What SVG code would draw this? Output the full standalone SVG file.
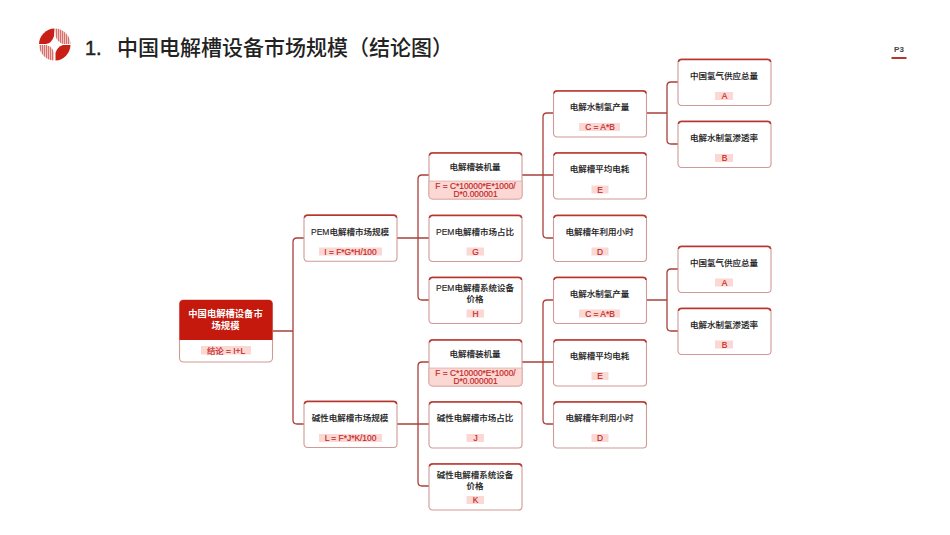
<svg xmlns="http://www.w3.org/2000/svg" width="950" height="535" viewBox="0 0 950 535">
<style>
text{font-family:"Liberation Sans","Noto Sans CJK SC",sans-serif;text-anchor:middle;text-spacing-trim:space-all}
.b{fill:#fff;stroke:#d09a96;stroke-width:1.1}
.t{fill:none;stroke:#b8342c;stroke-width:1.5}
.l{font-size:8.500px;fill:#222;font-weight:500;stroke:#222;stroke-width:.12}
.p{fill:#fcd8d5}
.f{font-size:8.400px;fill:#c5261e;stroke:#c5261e;stroke-width:.18}
.c{fill:none;stroke:#a8403a;stroke-width:1.3}
</style>
<defs>
<pattern id="st" width="2" height="2" patternUnits="userSpaceOnUse"><rect width="2" height="2" fill="#fff"/><rect width="1.4" height="2" fill="#d8716b"/></pattern>
<g id="box"><rect class="b" width="93" height="46.5" rx="3.500"/><path class="t" d="M0.500 3Q0.500 .4 3.500 .4H89.500Q92.500 .4 92.500 3"/></g>
</defs>
<rect width="950" height="535" fill="#fff"/>
<g id="logo">
<path d="M54.500 28.500A16 16 0 0 0 39 44H46Q52 43 54 36Z" fill="#c81f16"/>
<path d="M55 28.500A16 16 0 0 1 70.500 44H63Q57 42 55.500 36Z" fill="url(#st)"/>
<path d="M39 45A16 16 0 0 0 54 60.500V53Q53 47 46.500 45Z" fill="url(#st)"/>
<path d="M70.500 45A16 16 0 0 1 55.500 60.500V53Q57 47 63 45Z" fill="#c81f16"/>
</g>
<text x="85" y="54.500" style="text-anchor:start;font-size:20px;stroke:#222;stroke-width:.5" fill="#222">1.</text>
<text x="117" y="54.500" style="text-anchor:start;font-size:21px;font-weight:500;font-family:'Noto Sans CJK SC',sans-serif;font-kerning:none" fill="#222">中国电解槽设备市场规模（结论图）</text>
<text x="899" y="51.500" style="font-size:8px;font-weight:700" fill="#444">P3</text>
<rect x="891.500" y="57" width="15" height="2" fill="#b8342c"/>
<g id="connectors">
<path class="c" d="M272.500 331H293M304 238H297Q293 238 293 242V420Q293 424 297 424H304"/>
<path class="c" d="M397 238H418M429 175H422Q418 175 418 179V296Q418 300 422 300H429M418 238H429"/>
<path class="c" d="M397 424H418M429 362H422Q418 362 418 366V482Q418 486 422 486H429M418 424H429"/>
<path class="c" d="M522 175H543M553.500 113H547Q543 113 543 117V234Q543 238 547 238H553.500M543 175H553.500"/>
<path class="c" d="M522 362H543M553.500 300H547Q543 300 543 304V420Q543 424 547 424H553.500M543 362H553.500"/>
<path class="c" d="M646.500 113H667M678 82H671Q667 82 667 86V140Q667 144 671 144H678"/>
<path class="c" d="M646.500 300H667M678 269H671Q667 269 667 273V327Q667 331 671 331H678"/>
</g>
<g id="root">
<rect class="b" x="179.500" y="300" width="93" height="62" rx="4"/>
<path d="M179.500 340V304Q179.500 300 183.500 300H268.500Q272.500 300 272.500 304V340Z" fill="#c5190d"/>
<text x="225.500" y="317" style="font-size:9.300px;font-weight:700" fill="#fff">中国电解槽设备市</text>
<text x="225.500" y="329" style="font-size:9.300px;font-weight:700" fill="#fff">场规模</text>
<rect class="p" x="201" y="346" width="50" height="8.500"/>
<text class="f" x="226" y="353.500">结论 = I+L</text>
</g>
<g id="n-pem"><use href="#box" x="304" y="214.800"/><text class="l" x="350" y="234.500">PEM电解槽市场规模</text><rect class="p" x="319" y="247.500" width="63" height="8"/><text class="f" x="350.500" y="254.500">I = F*G*H/100</text></g>
<g id="n-alk"><use href="#box" x="304" y="401"/><text class="l" x="350" y="421">碱性电解槽市场规模</text><rect class="p" x="319" y="434" width="63" height="8"/><text class="f" x="350.500" y="441">L = F*J*K/100</text></g>
<g id="n-f1"><use href="#box" x="429" y="152.500"/><path class="p" d="M429 181H522V195.500Q522 199 518.500 199H432.500Q429 199 429 195.500Z" style="stroke:#d09a96;stroke-width:.6"/><text class="l" x="475" y="170">电解槽装机量</text><text class="f" x="475.500" y="188.500">F = C*10000*E*1000/</text><text class="f" x="475.500" y="197">D*0.000001</text></g>
<g id="n-g"><use href="#box" x="429" y="215"/><text class="l" x="475" y="234.500">PEM电解槽市场占比</text><rect class="p" x="466.500" y="247.500" width="17.500" height="8"/><text class="f" x="475.500" y="254.500">G</text></g>
<g id="n-h"><use href="#box" x="429" y="277"/><text class="l" x="475" y="291">PEM电解槽系统设备</text><text class="l" x="475" y="302">价格</text><rect class="p" x="466.500" y="309.500" width="17.500" height="8"/><text class="f" x="475.500" y="316.500">H</text></g>
<g id="n-f2"><use href="#box" x="429" y="339.500"/><path class="p" d="M429 368H522V382.500Q522 386 518.500 386H432.500Q429 386 429 382.500Z" style="stroke:#d09a96;stroke-width:.6"/><text class="l" x="475" y="357">电解槽装机量</text><text class="f" x="475.500" y="375.500">F = C*10000*E*1000/</text><text class="f" x="475.500" y="384">D*0.000001</text></g>
<g id="n-j"><use href="#box" x="429" y="401.500"/><text class="l" x="475" y="421">碱性电解槽市场占比</text><rect class="p" x="466.500" y="434" width="17.500" height="8"/><text class="f" x="475.500" y="441">J</text></g>
<g id="n-k"><use href="#box" x="429" y="463.500"/><text class="l" x="475" y="477.500">碱性电解槽系统设备</text><text class="l" x="475" y="488.500">价格</text><rect class="p" x="466.500" y="496" width="17.500" height="8"/><text class="f" x="475.500" y="503">K</text></g>
<g id="n-c1"><use href="#box" x="553.500" y="90.500"/><text class="l" x="599.500" y="110">电解水制氢产量</text><rect class="p" x="579" y="123" width="41" height="8"/><text class="f" x="600" y="130">C = A*B</text></g>
<g id="n-e1"><use href="#box" x="553.500" y="152.500"/><text class="l" x="599.500" y="172">电解槽平均电耗</text><rect class="p" x="591.500" y="185.500" width="17" height="8"/><text class="f" x="600" y="192.500">E</text></g>
<g id="n-d1"><use href="#box" x="553.500" y="215"/><text class="l" x="599.500" y="234.500">电解槽年利用小时</text><rect class="p" x="591.500" y="247.500" width="17" height="8"/><text class="f" x="600" y="254.500">D</text></g>
<g id="n-c2"><use href="#box" x="553.500" y="277"/><text class="l" x="599.500" y="296.500">电解水制氢产量</text><rect class="p" x="579" y="309.500" width="41" height="8"/><text class="f" x="600" y="316.500">C = A*B</text></g>
<g id="n-e2"><use href="#box" x="553.500" y="339.500"/><text class="l" x="599.500" y="359">电解槽平均电耗</text><rect class="p" x="591.500" y="372" width="17" height="8"/><text class="f" x="600" y="379">E</text></g>
<g id="n-d2"><use href="#box" x="553.500" y="401.500"/><text class="l" x="599.500" y="421">电解槽年利用小时</text><rect class="p" x="591.500" y="434" width="17" height="8"/><text class="f" x="600" y="441">D</text></g>
<g id="n-a1"><use href="#box" x="678" y="59"/><text class="l" x="724" y="79">中国氢气供应总量</text><rect class="p" x="715" y="92" width="18" height="8"/><text class="f" x="724.500" y="99">A</text></g>
<g id="n-b1"><use href="#box" x="678" y="121"/><text class="l" x="724" y="141">电解水制氢渗透率</text><rect class="p" x="715" y="154" width="18" height="8"/><text class="f" x="724.500" y="161">B</text></g>
<g id="n-a2"><use href="#box" x="678" y="246"/><text class="l" x="724" y="265.500">中国氢气供应总量</text><rect class="p" x="715" y="278.500" width="18" height="8"/><text class="f" x="724.500" y="285.500">A</text></g>
<g id="n-b2"><use href="#box" x="678" y="308"/><text class="l" x="724" y="327.500">电解水制氢渗透率</text><rect class="p" x="715" y="340.500" width="18" height="8"/><text class="f" x="724.500" y="347.500">B</text></g>
</svg>
